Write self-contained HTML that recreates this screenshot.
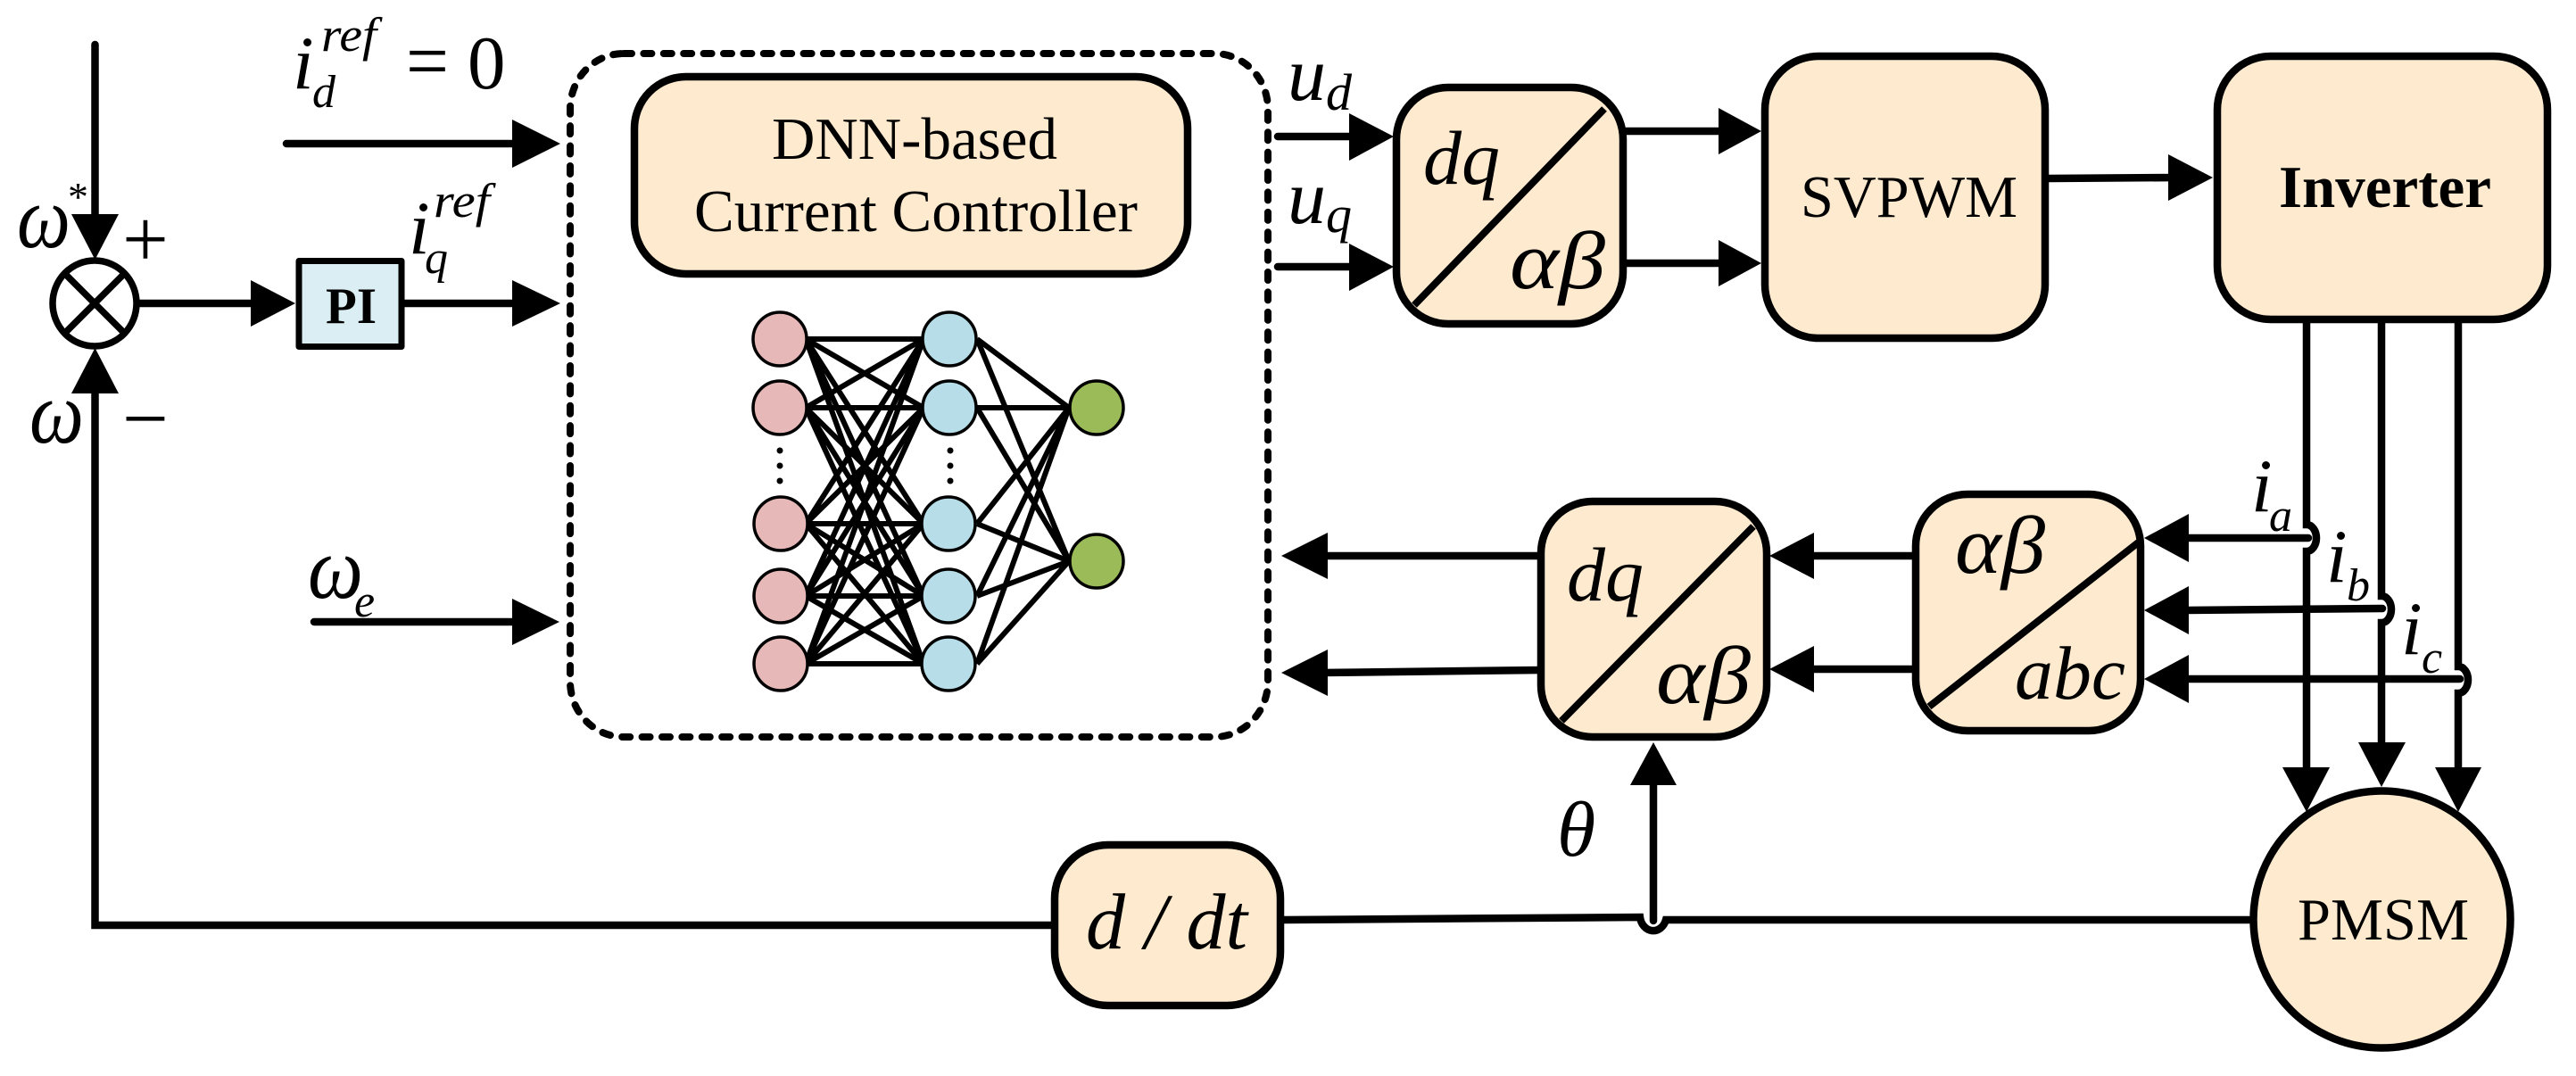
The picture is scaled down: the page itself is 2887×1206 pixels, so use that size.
<!DOCTYPE html>
<html><head><meta charset="utf-8"><style>
html,body{margin:0;padding:0;background:#fff}
svg{display:block}
text{font-family:"Liberation Serif",serif;fill:#000}
.i{font-style:italic}
.b{fill:#FDEACF;stroke:#000;stroke-width:8.500}
</style></head><body>
<svg width="2887" height="1206" viewBox="0 0 2887 1206" xmlns="http://www.w3.org/2000/svg">
<rect width="2887" height="1206" fill="#fff"/>
<!-- dashed container -->
<rect x="639" y="60" width="782" height="766" rx="60" ry="62" fill="none" stroke="#000" stroke-width="8" stroke-dasharray="9 13.400" stroke-linecap="round"/>
<rect x="711" y="86" width="620" height="221" rx="58" ry="58" class="b"/>
<text x="865" y="178" font-size="67" textLength="320" lengthAdjust="spacingAndGlyphs">DNN-based</text>
<text x="778" y="259" font-size="67" textLength="497" lengthAdjust="spacingAndGlyphs">Current Controller</text>
<!-- connectors -->
<g fill="none" stroke="#000" stroke-width="8.500" stroke-linecap="round">
<path d="M106.500 50V245"/>
<path d="M106.500 435V1037H1182"/>
<path d="M157 340H290"/>
<path d="M454 340H580"/>
<path d="M321 161H580"/>
<path d="M352 697H580"/>
<path d="M1432 153H1520"/>
<path d="M1432 299H1520"/>
<path d="M1823 147H1932"/>
<path d="M1823 295H1932"/>
<path d="M2296 200L2440 199"/>
<path d="M2147 623H2030"/>
<path d="M2147 750H2030"/>
<path d="M1727 623H1480"/>
<path d="M1727 751L1480 754"/>
<path d="M2585 358V588A11 15 0 0 1 2585 618V870"/>
<path d="M2669 358V668A11 15 0 0 1 2669 698V840"/>
<path d="M2755 358V747A11 15 0 0 1 2755 777V870"/>
<path d="M2587 603H2450"/>
<path d="M2670 682L2450 684"/>
<path d="M2757 761H2450"/>
<path d="M1853 1032V875"/>
<path d="M1439 1031L1838 1028A15 18 0 0 0 1867 1031H2525"/>
</g>
<!-- arrowheads -->
<g fill="#000">
<polygon points="80,240 133,240 106.500,291"/>
<polygon points="80,441 133,441 106.500,390"/>
<polygon points="281,314 281,366 331,340"/>
<polygon points="574,134 574,188 628,161"/>
<polygon points="574,314 574,366 628,340"/>
<polygon points="574,671 574,723 627,697"/>
<polygon points="1512,127 1512,180 1562,153"/>
<polygon points="1512,273 1512,326 1562,299"/>
<polygon points="1926,121 1926,173 1974,147"/>
<polygon points="1926,269 1926,321 1974,295"/>
<polygon points="2430,173 2430,225 2480,199"/>
<polygon points="2033,597 2033,649 1983,623"/>
<polygon points="2033,724 2033,776 1983,750"/>
<polygon points="1488,597 1488,649 1436,623"/>
<polygon points="1488,728 1488,780 1436,754"/>
<polygon points="2453,576 2453,630 2403,603"/>
<polygon points="2453,657 2453,711 2403,684"/>
<polygon points="2453,734 2453,788 2403,761"/>
<polygon points="2558,860 2611,860 2585,910"/>
<polygon points="2643,832 2696,832 2669,882"/>
<polygon points="2729,860 2781,860 2755,910"/>
<polygon points="1827,880 1879,880 1853,832"/>
</g>
<!-- summing junction -->
<ellipse cx="106" cy="340" rx="47" ry="48" fill="#fff" stroke="#000" stroke-width="7.500"/>
<path d="M74 308L138 372M138 308L74 372" stroke="#000" stroke-width="7.500" fill="none"/>
<!-- PI -->
<rect x="335" y="292.500" width="115" height="96" fill="#DAEEF3" stroke="#000" stroke-width="7" stroke-linejoin="round"/>
<text x="393.500" y="362" font-size="57" font-weight="bold" text-anchor="middle">PI</text>
<!-- neural net -->
<g stroke="#000" stroke-width="6" fill="none">
<path d="M903 380L1035 380M903 380L1035 457M903 380L1035 587M903 380L1035 668M903 380L1035 744"/>
<path d="M903 457L1035 380M903 457L1035 457M903 457L1035 587M903 457L1035 668M903 457L1035 744"/>
<path d="M903 587L1035 380M903 587L1035 457M903 587L1035 587M903 587L1035 668M903 587L1035 744"/>
<path d="M903 668L1035 380M903 668L1035 457M903 668L1035 587M903 668L1035 668M903 668L1035 744"/>
<path d="M903 744L1035 380M903 744L1035 457M903 744L1035 587M903 744L1035 668M903 744L1035 744"/>
<path d="M1095 380L1198 457M1095 380L1198 629M1095 457L1198 457M1095 457L1198 629M1095 587L1198 457M1095 587L1198 629M1095 668L1198 457M1095 668L1198 629M1095 744L1198 457M1095 744L1198 629"/>
</g>
<g stroke="#000" stroke-width="3.500">
<g fill="#E6B8B7">
<circle cx="874" cy="380" r="30"/><circle cx="874" cy="457" r="30"/><circle cx="875" cy="587" r="30"/><circle cx="875" cy="668" r="30"/><circle cx="875" cy="744" r="30"/>
</g>
<g fill="#B7DEE8">
<circle cx="1064" cy="380" r="30"/><circle cx="1064" cy="457" r="30"/><circle cx="1063" cy="587" r="30"/><circle cx="1063" cy="668" r="30"/><circle cx="1063" cy="744" r="30"/>
</g>
<g fill="#9BBB59">
<circle cx="1229" cy="457" r="30"/><circle cx="1229" cy="629" r="30"/>
</g>
</g>
<g fill="#000">
<circle cx="874" cy="505" r="3.500"/><circle cx="874" cy="522" r="3.500"/><circle cx="874" cy="539" r="3.500"/>
<circle cx="1065" cy="505" r="3.500"/><circle cx="1065" cy="522" r="3.500"/><circle cx="1065" cy="539" r="3.500"/>
</g>
<!-- blocks -->
<rect x="1565" y="98" width="254" height="265" rx="58" ry="58" class="b"/>
<path d="M1585 342L1798 122" stroke="#000" stroke-width="8"/>
<rect x="1978" y="63" width="314" height="316" rx="60" ry="60" class="b"/>
<rect x="2485" y="63" width="370" height="295" rx="60" ry="60" class="b"/>
<rect x="1727" y="562" width="253" height="264" rx="58" ry="58" class="b"/>
<path d="M1750 808L1965 590" stroke="#000" stroke-width="8"/>
<rect x="2147" y="554" width="252" height="265" rx="58" ry="58" class="b"/>
<path d="M2162 792L2399 606" stroke="#000" stroke-width="8"/>
<rect x="1182" y="947" width="253" height="180" rx="60" ry="60" class="b"/>
<circle cx="2669.500" cy="1030.500" r="144" class="b"/>
<!-- block text -->
<text x="2018" y="243" font-size="67" textLength="243" lengthAdjust="spacingAndGlyphs">SVPWM</text>
<text x="2554" y="232" font-size="67" font-weight="bold" textLength="238" lengthAdjust="spacingAndGlyphs">Inverter</text>
<text x="2575" y="1053" font-size="67" textLength="192" lengthAdjust="spacingAndGlyphs">PMSM</text>
<g class="i">
<text x="1595" y="206" font-size="86" textLength="86" lengthAdjust="spacingAndGlyphs">dq</text>
<text x="1692" y="323" font-size="92" textLength="107" lengthAdjust="spacingAndGlyphs">αβ</text>
<text x="1756" y="673" font-size="86" textLength="86" lengthAdjust="spacingAndGlyphs">dq</text>
<text x="1856" y="788" font-size="92" textLength="106" lengthAdjust="spacingAndGlyphs">αβ</text>
<text x="2191" y="642" font-size="92" textLength="101" lengthAdjust="spacingAndGlyphs">αβ</text>
<text x="2258" y="783" font-size="85" textLength="124" lengthAdjust="spacingAndGlyphs">abc</text>
<text x="1217" y="1063" font-size="89" textLength="181" lengthAdjust="spacingAndGlyphs">d / dt</text>
<!-- signal labels -->
<text x="328" y="99" font-size="85">i</text>
<text x="360" y="57" font-size="54" textLength="62" lengthAdjust="spacingAndGlyphs">ref</text>
<text x="350" y="120" font-size="52">d</text>
<text x="458" y="284" font-size="85">i</text>
<text x="486" y="243" font-size="54" textLength="63" lengthAdjust="spacingAndGlyphs">ref</text>
<text x="476" y="306" font-size="52">q</text>
<text x="19" y="277" font-size="100" textLength="60" lengthAdjust="spacingAndGlyphs">ω</text>
<text x="33" y="496" font-size="100" textLength="61" lengthAdjust="spacingAndGlyphs">ω</text>
<text x="345" y="670" font-size="100" textLength="62" lengthAdjust="spacingAndGlyphs">ω</text>
<text x="397" y="691" font-size="52">e</text>
<text x="1443" y="112" font-size="86">u</text>
<text x="1486" y="123" font-size="58">d</text>
<text x="1443" y="250" font-size="86">u</text>
<text x="1486" y="260" font-size="58">q</text>
<text x="2523" y="573" font-size="85">i</text>
<text x="2543" y="595" font-size="52">a</text>
<text x="2607" y="652" font-size="85">i</text>
<text x="2630" y="673" font-size="52">b</text>
<text x="2691" y="733" font-size="85">i</text>
<text x="2714" y="754" font-size="52">c</text>
<text x="1745" y="959" font-size="88">θ</text>
</g>
<text x="455" y="99" font-size="92" textLength="48" lengthAdjust="spacingAndGlyphs">=</text>
<text x="524" y="99" font-size="85">0</text>
<text x="76" y="236" font-size="46">*</text>
<text x="137" y="299" font-size="92">+</text>
<text x="137" y="500" font-size="92">−</text>
</svg>
</body></html>
